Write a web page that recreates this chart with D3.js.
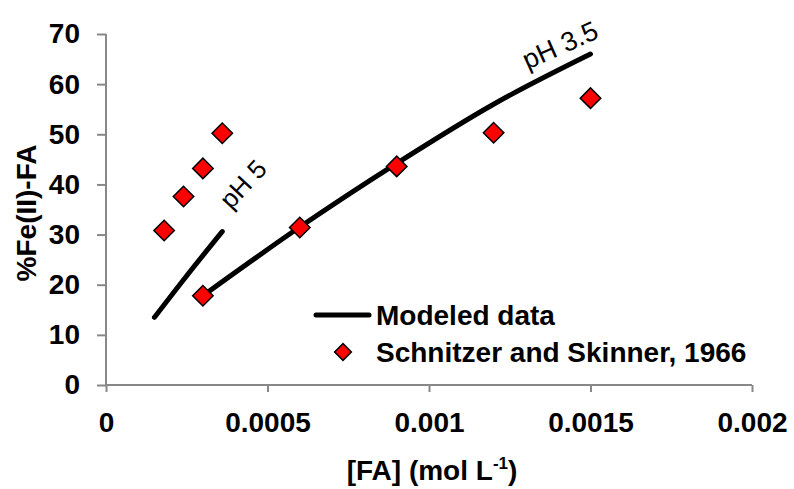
<!DOCTYPE html>
<html>
<head>
<meta charset="utf-8">
<script src="https://cdn.jsdelivr.net/npm/d3@7"></script>
<style>
  body { margin: 0; background: #fff; }
  text { font-family: "Liberation Sans", Arial, sans-serif; }
</style>
</head>
<body>
<div id="chart"></div>
<script>
var w = 794,
  h = 489;

// measured data (Schnitzer and Skinner, 1966)
var obsPH5X = [0.00018, 0.00024, 0.0003, 0.00036];
var obsPH5Y = [30.8, 37.6, 43.2, 50.2];
var obsPH35X = [0.0003, 0.0006, 0.0009, 0.0012, 0.0015];
var obsPH35Y = [17.8, 31.4, 43.6, 50.3, 57.2];

// modeled curves
var modPH5X = [0.00015, 0.00025, 0.00036];
var modPH5Y = [13.5, 21.8, 30.6];
var modPH35X = [0.0003, 0.0006, 0.0009, 0.0012, 0.0015];
var modPH35Y = [17.8, 31.5, 44.2, 56.0, 66.0];

var xTicks = [0, 0.0005, 0.001, 0.0015, 0.002];
var xTickLabels = ["0", "0.0005", "0.001", "0.0015", "0.002"];
var yTicks = [0, 10, 20, 30, 40, 50, 60, 70];

var margin = {left: 106, right: 42, top: 34, bottom: 104};
var fontSize = "28px";

var svg = d3.select("#chart").append("svg")
  .attr("width", w)
  .attr("height", h);

var x = d3.scaleLinear().domain([0, 0.002]).range([margin.left, w - margin.right]);
var y = d3.scaleLinear().domain([0, 70]).range([h - margin.bottom, margin.top]);

// axes
var xAxis = svg.append("g")
  .attr("transform", "translate(0," + y(0) + ")")
  .call(d3.axisBottom(x).tickValues(xTicks).tickSize(7).tickFormat(function(d, i){ return xTickLabels[i]; }));
xAxis.select(".domain").attr("stroke", "#888").attr("stroke-width", 2).attr("d", "M" + x(0) + ",0H" + x(0.002));
xAxis.selectAll(".tick line").attr("stroke", "#888").attr("stroke-width", 2);
xAxis.selectAll(".tick text")
  .attr("y", 27)
  .attr("font-size", fontSize)
  .attr("font-weight", "bold")
  .attr("font-family", "Liberation Sans, Arial, sans-serif")
  .attr("fill", "#000");

var yAxis = svg.append("g")
  .attr("transform", "translate(" + x(0) + ",0)")
  .call(d3.axisLeft(y).tickValues(yTicks).tickSize(9));
yAxis.select(".domain").attr("stroke", "#888").attr("stroke-width", 2).attr("d", "M0," + y(70) + "V" + y(0));
yAxis.selectAll(".tick line").attr("stroke", "#888").attr("stroke-width", 2);
yAxis.selectAll(".tick text")
  .attr("x", -26)
  .attr("font-size", fontSize)
  .attr("font-weight", "bold")
  .attr("font-family", "Liberation Sans, Arial, sans-serif")
  .attr("fill", "#000");

// axis titles
svg.append("text")
  .attr("transform", "translate(36,213) rotate(-90)")
  .attr("text-anchor", "middle")
  .attr("font-size", fontSize)
  .attr("font-weight", "bold")
  .text("%Fe(II)-FA");

var xt = svg.append("text")
  .attr("x", 432)
  .attr("y", 480)
  .attr("text-anchor", "middle")
  .attr("font-size", fontSize)
  .attr("font-weight", "bold");
xt.append("tspan").text("[FA] (mol L");
xt.append("tspan").attr("font-size", "17px").attr("dy", -11).text("-1");
xt.append("tspan").attr("dy", 11).text(")");

// modeled lines
var line = d3.line()
  .x(function(d){ return x(d[0]); })
  .y(function(d){ return y(d[1]); })
  .curve(d3.curveMonotoneX);

var model = [d3.zip(modPH5X, modPH5Y), d3.zip(modPH35X, modPH35Y)];
svg.selectAll(".model")
  .data(model)
  .enter()
  .append("path")
  .attr("class", "model")
  .attr("d", line)
  .attr("fill", "none")
  .attr("stroke", "#000")
  .attr("stroke-width", 5)
  .attr("stroke-linecap", "round");

// observed points
var obs = d3.zip(obsPH5X, obsPH5Y).concat(d3.zip(obsPH35X, obsPH35Y));
var diamond = d3.symbol().type(d3.symbolSquare).size(210);
svg.selectAll(".obs")
  .data(obs)
  .enter()
  .append("path")
  .attr("class", "obs")
  .attr("d", diamond)
  .attr("transform", function(d){ return "translate(" + x(d[0]) + "," + y(d[1]) + ") rotate(45)"; })
  .attr("fill", "#ff0000")
  .attr("stroke", "#000")
  .attr("stroke-width", 1.5);

// curve labels
svg.append("text")
  .attr("transform", "translate(243,184) rotate(-47)")
  .attr("text-anchor", "middle")
  .attr("dy", "0.35em")
  .attr("font-size", "26px")
  .text("pH 5");
svg.append("text")
  .attr("transform", "translate(560,45) rotate(-24)")
  .attr("text-anchor", "middle")
  .attr("dy", "0.35em")
  .attr("font-size", "27px")
  .text("pH 3.5");

// legend
var legend = svg.append("g").attr("class", "legend");
legend.append("line")
  .attr("x1", 316).attr("x2", 369)
  .attr("y1", 315).attr("y2", 315)
  .attr("stroke", "#000")
  .attr("stroke-width", 5)
  .attr("stroke-linecap", "round");
legend.append("path")
  .attr("d", d3.symbol().type(d3.symbolSquare).size(140))
  .attr("transform", "translate(343,352) rotate(45)")
  .attr("fill", "#ff0000")
  .attr("stroke", "#000")
  .attr("stroke-width", 1.5);
legend.append("text")
  .attr("x", 376).attr("y", 325)
  .attr("font-size", fontSize)
  .attr("font-weight", "bold")
  .text("Modeled data");
legend.append("text")
  .attr("x", 376).attr("y", 362)
  .attr("font-size", fontSize)
  .attr("font-weight", "bold")
  .text("Schnitzer and Skinner, 1966");
</script>
</body>
</html>
